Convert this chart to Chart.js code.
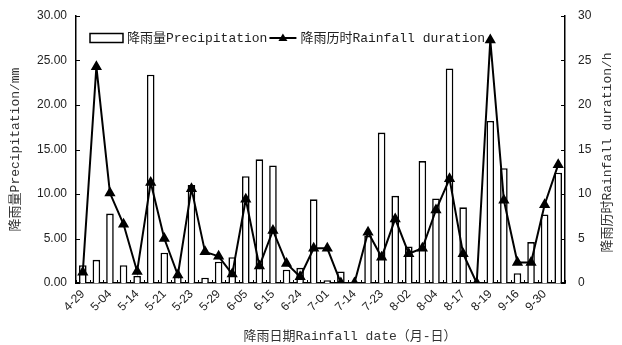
<!DOCTYPE html>
<html>
<head>
<meta charset="utf-8">
<script src="https://cdn.jsdelivr.net/npm/chart.js@4/dist/chart.umd.min.js"></script>
<style>
  html, body { margin: 0; padding: 0; background: #fff; }
  #wrap { width: 622px; height: 345px; position: relative; }
</style>
</head>
<body>
<div id="wrap"><canvas id="rainChart"></canvas></div>
<script>
// --- datos ---
const dateLabels = ['4-29', '5-04', '5-14', '5-21', '5-23', '5-29', '6-05', '6-15', '6-24',
                    '7-01', '7-14', '7-23', '8-02', '8-04', '8-17', '8-19', '9-16', '9-30'];
// solo cada segunda fecha aparece en el eje
const categories = dateLabels.flatMap(d => [d, '']);

const precipitation = [2.0, 2.6, 7.8, 2.0, 0.8, 23.4, 3.4, 0.8, 11.0, 0.6, 2.4, 2.9,
                       12.0, 13.9, 13.2, 1.5, 1.7, 9.4, 0.3, 1.3, 0.1, 5.3, 16.9, 9.8,
                       4.1, 13.7, 9.5, 24.1, 8.5, 0.1, 18.2, 12.9, 1.1, 4.6, 7.7, 12.4];
const duration = [1.2, 24.3, 10.1, 6.6, 1.3, 11.3, 5.0, 0.9, 10.6, 3.5, 3.0, 1.0,
                  9.4, 1.9, 5.9, 2.2, 0.7, 3.9, 3.9, 0, 0, 5.7, 2.9, 7.2,
                  3.3, 3.9, 8.2, 11.7, 3.3, 0, 27.3, 9.3, 2.3, 2.3, 8.8, 13.3];

const leftTicks = [0, 5, 10, 15, 20, 25, 30];

const titleFont = { family: '"Liberation Mono", "Noto Sans CJK SC"', size: 13 };
const tickFont = { family: '"Liberation Sans", Arial', size: 12 };

// ticks hacia dentro, leyenda y títulos que Chart.js no coloca igual
const decor = {
  id: 'decor',
  afterDraw(chart) {
    const { ctx, chartArea: a, scales } = chart;
    const x = scales.x, y = scales.y, y1 = scales.y1;
    ctx.save();
    ctx.strokeStyle = '#000';
    ctx.lineWidth = 1;
    ctx.beginPath();
    y.ticks.forEach(t => {
      const py = Math.round(y.getPixelForValue(t.value)) + 0.5;
      ctx.moveTo(a.left, py); ctx.lineTo(a.left + 4, py);
    });
    y1.ticks.forEach(t => {
      const py = Math.round(y1.getPixelForValue(t.value)) + 0.5;
      ctx.moveTo(a.right, py); ctx.lineTo(a.right - 4, py);
    });
    const half = (x.getPixelForValue(1) - x.getPixelForValue(0)) / 2;
    for (let i = 0; i <= categories.length; i++) {
      const px = Math.round(x.getPixelForValue(i) - half) + 0.5;
      ctx.moveTo(px, a.bottom); ctx.lineTo(px, a.bottom - 3);
    }
    ctx.stroke();

    // leyenda
    const ds = chart.data.datasets;
    const ly = 38;
    ctx.font = '13px ' + titleFont.family;
    ctx.textBaseline = 'middle';
    ctx.lineWidth = 1.5;
    ctx.fillStyle = '#fff';
    ctx.fillRect(a.left + 14, ly - 4.5, 33, 9);
    ctx.strokeRect(a.left + 14, ly - 4.5, 33, 9);
    ctx.fillStyle = '#222';
    ctx.fillText(ds[0].label, a.left + 51, ly + 1);
    const lx = a.left + 51 + ctx.measureText(ds[0].label).width + 2;
    ctx.lineWidth = 2;
    ctx.beginPath();
    ctx.moveTo(lx, ly); ctx.lineTo(lx + 27, ly);
    ctx.stroke();
    ctx.fillStyle = '#000';
    ctx.beginPath();
    ctx.moveTo(lx + 13.5, ly - 4.5);
    ctx.lineTo(lx + 18, ly + 3);
    ctx.lineTo(lx + 9, ly + 3);
    ctx.closePath();
    ctx.fill();
    ctx.fillStyle = '#222';
    ctx.fillText(ds[1].label, lx + 31, ly + 1);

    // título del eje x
    ctx.fillStyle = '#333';
    ctx.textAlign = 'center';
    ctx.fillText('降雨日期Rainfall date（月-日）', 350, 337);

    // título del eje derecho (leído de abajo hacia arriba)
    ctx.translate(608, (a.top + a.bottom) / 2 + 3);
    ctx.rotate(-Math.PI / 2);
    ctx.fillText('降雨历时Rainfall duration/h', 0, 0);
    ctx.restore();
  }
};

// el alto del área lo fija el padding del layout, no la mitad de la etiqueta
const noVertPad = s => { s.paddingTop = 0; s.paddingBottom = 0; };

const ctx = document.getElementById('rainChart').getContext('2d');

new Chart(ctx, {
  type: 'bar',
  data: {
    labels: categories,
    datasets: [
      {
        type: 'bar',
        label: '降雨量Precipitation',
        data: precipitation,
        yAxisID: 'y',
        backgroundColor: '#fff',
        borderColor: '#000',
        borderWidth: 1.6,
        barPercentage: 0.56,
        categoryPercentage: 1,
        order: 2
      },
      {
        type: 'line',
        label: '降雨历时Rainfall duration',
        data: duration,
        yAxisID: 'y1',
        borderColor: '#000',
        borderWidth: 2,
        pointStyle: 'triangle',
        pointRadius: 4.5,
        pointBackgroundColor: '#000',
        pointBorderColor: '#000',
        tension: 0,
        order: 1
      }
    ]
  },
  options: {
    responsive: true,
    maintainAspectRatio: false,
    animation: false,
    layout: { padding: { top: 16, left: 0, right: 0, bottom: 0 } },
    plugins: { legend: { display: false }, tooltip: { enabled: false } },
    scales: {
      x: {
        offset: true,
        grid: { display: false, drawTicks: false },
        border: { color: '#000', width: 1.5 },
        ticks: {
          autoSkip: false, maxRotation: 45, minRotation: 45, padding: 4,
          color: '#222', font: tickFont
        },
        afterFit: s => { s.height = 62; s.paddingLeft = 0; s.paddingRight = 0; }
      },
      y: {
        position: 'left',
        min: 0, max: 30,
        grid: { display: false, drawTicks: false },
        border: { color: '#000', width: 1.5 },
        afterBuildTicks: s => { s.ticks = leftTicks.map(v => ({ value: v })); },
        ticks: {
          padding: 9, color: '#222', font: tickFont,
          callback: v => Number(v).toFixed(2)
        },
        title: {
          display: true, text: '降雨量Precipitation/mm',
          color: '#333', font: titleFont, padding: { top: 8, bottom: 0 }
        },
        afterFit: s => { s.width = 76; noVertPad(s); }
      },
      y1: {
        position: 'right',
        min: 0, max: 30,
        grid: { display: false, drawTicks: false },
        border: { color: '#000', width: 1.5 },
        ticks: { stepSize: 5, padding: 13, color: '#222', font: tickFont },
        afterFit: s => { s.width = 57; noVertPad(s); }
      }
    }
  },
  plugins: [decor]
});
</script>
</body>
</html>
